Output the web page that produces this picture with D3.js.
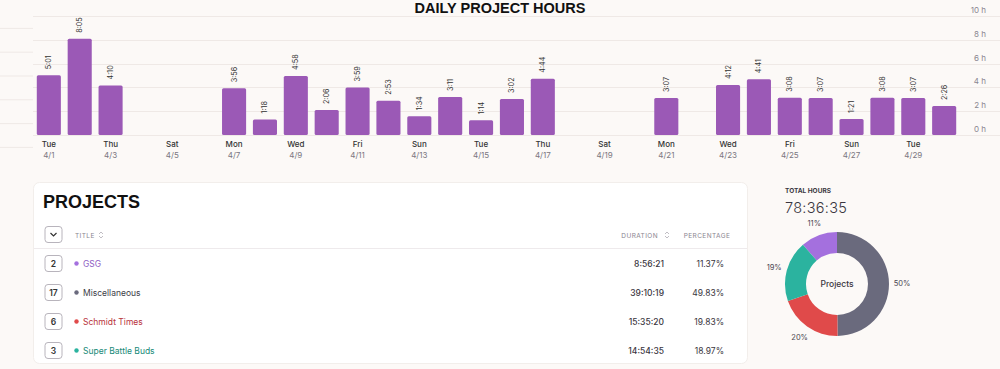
<!DOCTYPE html>
<html>
<head>
<meta charset="utf-8">
<script src="https://cdn.jsdelivr.net/npm/d3@7"></script>
<style>
  html, body { margin: 0; padding: 0; background: #fcf9f7; }
  svg { display: block; font-family: Inter, "Noto Sans", sans-serif; }
</style>
</head>
<body>
<div id="js_chart"></div>
<script>
// daily hours, April 2025
const days = ["4/1","4/2","4/3","4/4","4/5","4/6","4/7","4/8","4/9","4/10",
  "4/11","4/12","4/13","4/14","4/15","4/16","4/17","4/18","4/19","4/20",
  "4/21","4/22","4/23","4/24","4/25","4/26","4/27","4/28","4/29","4/30"];
const hours = ["5:01","8:05","4:10","","","","3:56","1:18","4:58","2:06",
  "3:59","2:53","1:34","3:11","1:14","3:02","4:44","","","",
  "3:07","","4:12","4:41","3:08","3:07","1:21","3:08","3:07","2:26"];
const yTicks = [0, 2, 4, 6, 8, 10];

// projects table
const projects = ["GSG", "Miscellaneous", "Schmidt Times", "Super Battle Buds"];
const entries = [2, 17, 6, 3];
const durations = ["8:56:21", "39:10:19", "15:35:20", "14:54:35"];
const percentages = [11.37, 49.83, 19.83, 18.97];
const dotColors = ["#a470de", "#6a6a7d", "#e04a4a", "#2bb39f"];
const nameColors = ["#8d5cc4", "#3d3d48", "#b8323a", "#178a78"];
const totalHours = "78:36:35";

const parseH = s => {
  if (!s) return 0;
  const [h, m] = s.split(":").map(Number);
  return h + m / 60;
};
const dateOf = d => new Date(2025, +d.split("/")[0] - 1, +d.split("/")[1]);

const svg = d3.select("#js_chart")
  .append("svg")
  .attr("width", 1000)
  .attr("height", 369);

// ---- bar chart ----
const x = d3.scaleBand(days, [30, 963]).paddingInner(0.22).paddingOuter(0.22);
const y = d3.scaleLinear([0, 10], [135, 16]);

// faint lines at the far left
svg.append("g")
  .selectAll("line")
  .data([9, 7, 5, 3, 1, -1])
  .join("line")
    .attr("x1", 0).attr("x2", 33)
    .attr("y1", d => y(d) + 0.5).attr("y2", d => y(d) + 0.5)
    .attr("stroke", "#efe9e6");

const grid = svg.append("g");
grid.selectAll("line")
  .data(yTicks)
  .join("line")
    .attr("x1", 33).attr("x2", 1000)
    .attr("y1", d => Math.round(y(d)) + 0.5).attr("y2", d => Math.round(y(d)) + 0.5)
    .attr("stroke", "#efe9e6");
grid.selectAll("text")
  .data(yTicks)
  .join("text")
    .attr("x", 986)
    .attr("y", d => y(d) - 3)
    .attr("text-anchor", "end")
    .attr("font-size", 8)
    .attr("fill", "#8a8690")
    .text(d => d + " h");

svg.append("text")
  .attr("x", 500).attr("y", 13)
  .attr("text-anchor", "middle")
  .attr("font-family", "'Liberation Sans', Arial, sans-serif")
  .attr("font-weight", "bold")
  .attr("font-size", 14.5)
  .attr("fill", "#111")
  .text("DAILY PROJECT HOURS");

const bars = svg.append("g")
  .selectAll("g")
  .data(days.map((d, i) => ({ day: d, label: hours[i], v: parseH(hours[i]) })).filter(d => d.v > 0))
  .join("g");
bars.append("rect")
  .attr("x", d => x(d.day))
  .attr("y", d => y(d.v))
  .attr("width", x.bandwidth())
  .attr("height", d => y(0) - y(d.v))
  .attr("rx", 1.5)
  .attr("fill", "#9b59b6");
bars.append("text")
  .attr("transform", d => `translate(${x(d.day) + x.bandwidth() / 2 + 2.5},${y(d.v) - 6}) rotate(-90)`)
  .attr("font-size", 7.2)
  .attr("fill", "#333")
  .text(d => d.label);

const ticks = svg.append("g")
  .selectAll("g")
  .data(days.filter((d, i) => i % 2 === 0))
  .join("g")
    .attr("transform", d => `translate(${x(d) + x.bandwidth() / 2},0)`);
ticks.append("text")
  .attr("y", 147).attr("text-anchor", "middle")
  .attr("font-size", 8).attr("font-weight", 500).attr("fill", "#333")
  .text(d => d3.timeFormat("%a")(dateOf(d)));
ticks.append("text")
  .attr("y", 158).attr("text-anchor", "middle")
  .attr("font-size", 8).attr("fill", "#7a7680")
  .text(d => d);

// ---- projects table ----
const card = svg.append("g");
card.append("rect")
  .attr("x", 33.5).attr("y", 182.5)
  .attr("width", 714).attr("height", 181)
  .attr("rx", 6)
  .attr("fill", "#fff")
  .attr("stroke", "#f2eeeb");
card.append("text")
  .attr("x", 43).attr("y", 208)
  .attr("font-family", "'Liberation Sans', Arial, sans-serif")
  .attr("font-weight", "bold").attr("font-size", 18).attr("fill", "#111")
  .text("PROJECTS");

function box(g, cx, cy) {
  g.append("rect")
    .attr("x", cx - 8.5).attr("y", cy - 8)
    .attr("width", 17).attr("height", 16)
    .attr("rx", 3)
    .attr("fill", "#fff")
    .attr("stroke", "#b8b4bc");
}
function sortIcon(g, cx, cy) {
  g.append("path")
    .attr("d", `M${cx - 2},${cy - 1} L${cx},${cy - 3} L${cx + 2},${cy - 1} M${cx - 2},${cy + 1} L${cx},${cy + 3} L${cx + 2},${cy + 1}`)
    .attr("fill", "none").attr("stroke", "#b0acb4").attr("stroke-width", 0.8);
}

box(card, 53.5, 234.5);
card.append("path")
  .attr("d", "M50.5,233 L53.5,236 L56.5,233")
  .attr("fill", "none").attr("stroke", "#333").attr("stroke-width", 1.2);

const header = { "font-size": 6.5, "fill": "#8a8690", "letter-spacing": 0.4 };
const hTitle = card.append("text").attr("x", 75).attr("y", 237.5).text("TITLE");
const hDur = card.append("text").attr("x", 658).attr("y", 237.5).attr("text-anchor", "end").text("DURATION");
const hPct = card.append("text").attr("x", 707).attr("y", 237.5).attr("text-anchor", "middle").text("PERCENTAGE");
[hTitle, hDur, hPct].forEach(t => Object.entries(header).forEach(([k, v]) => t.attr(k, v)));
sortIcon(card, 101, 235);
sortIcon(card, 667, 235);

card.append("line")
  .attr("x1", 34).attr("x2", 747)
  .attr("y1", 248.5).attr("y2", 248.5)
  .attr("stroke", "#eeeaec");

const rowY = d3.scalePoint(projects, [263.5, 350.5]);
const rows = card.selectAll("g.row")
  .data(projects)
  .join("g")
    .attr("class", "row")
    .attr("transform", d => `translate(0,${rowY(d)})`);
rows.each(function (d, i) {
  const g = d3.select(this);
  box(g, 53.5, 0);
  g.append("text")
    .attr("x", 53.5).attr("y", 3)
    .attr("text-anchor", "middle")
    .attr("font-size", 8.5).attr("font-weight", 600).attr("fill", "#333")
    .text(entries[i]);
  g.append("circle")
    .attr("cx", 76.5).attr("cy", 0).attr("r", 2.2)
    .attr("fill", dotColors[i]);
  g.append("text")
    .attr("x", 83).attr("y", 3)
    .attr("font-size", 8.5).attr("fill", nameColors[i])
    .text(d);
  g.append("text")
    .attr("x", 664).attr("y", 3)
    .attr("text-anchor", "end")
    .attr("font-size", 8.5).attr("font-weight", 500).attr("fill", "#3a3640")
    .text(durations[i]);
  g.append("text")
    .attr("x", 724).attr("y", 3)
    .attr("text-anchor", "end")
    .attr("font-size", 8.5).attr("fill", "#3a3640")
    .text(percentages[i].toFixed(2) + "%");
});

// ---- donut ----
svg.append("text")
  .attr("x", 785).attr("y", 192.5)
  .attr("font-size", 6.5).attr("font-weight", 700).attr("fill", "#3a3640")
  .text("TOTAL HOURS");
svg.append("text")
  .attr("x", 785).attr("y", 212.5)
  .attr("font-size", 14.5).attr("font-weight", 300).attr("fill", "#3a3640")
  .attr("letter-spacing", 0.3)
  .text(totalHours);

const cx = 837, cy = 284;
const pie = d3.pie().value(d => d.pct);
const arcs = pie(projects.map((p, i) => ({ name: p, pct: percentages[i], color: dotColors[i] })));
const arc = d3.arc().innerRadius(31).outerRadius(52);
const labelArc = d3.arc().innerRadius(65).outerRadius(65);

const donut = svg.append("g").attr("transform", `translate(${cx},${cy})`);
donut.selectAll("path")
  .data(arcs)
  .join("path")
    .attr("d", arc)
    .attr("fill", d => d.data.color);
donut.selectAll("text.pct")
  .data(arcs)
  .join("text")
    .attr("class", "pct")
    .attr("transform", d => `translate(${labelArc.centroid(d)})`)
    .attr("text-anchor", "middle")
    .attr("dy", "0.35em")
    .attr("font-size", 7.5).attr("fill", "#4a4650")
    .text(d => Math.round(d.data.pct) + "%");
donut.append("text")
  .attr("text-anchor", "middle").attr("dy", "0.35em")
  .attr("font-size", 8.5).attr("font-weight", 500).attr("fill", "#3a3640")
  .text("Projects");
</script>
</body>
</html>
